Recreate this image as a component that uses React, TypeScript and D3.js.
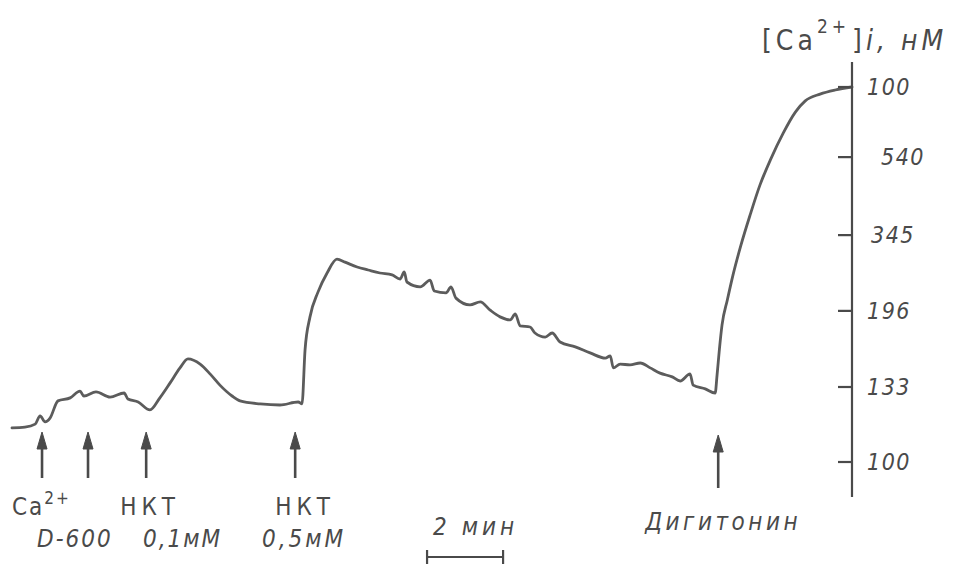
import React from 'react';
import * as d3 from 'd3';

// время, мин
const traceTime = [
  0, 0.34, 0.61, 0.74, 0.87, 1.0, 1.21, 1.53, 1.79, 1.89, 2.21, 2.58, 2.95, 3.05, 3.32, 3.63,
  3.89, 4.16, 4.42, 4.63, 4.95, 5.21, 5.47, 5.79, 6.0, 6.53, 7.05, 7.53, 7.63, 7.71, 7.84, 8.05,
  8.29, 8.55, 8.76, 9.08, 9.37, 9.68, 10.0, 10.21, 10.32, 10.39, 10.74, 11.0, 11.11, 11.42, 11.55,
  11.68, 12.05, 12.32, 12.58, 12.84, 13.11, 13.24, 13.37, 13.63, 13.76, 14.03, 14.21, 14.42, 14.82,
  15.21, 15.61, 15.74, 15.82, 16.0, 16.26, 16.53, 16.79, 17.05, 17.37, 17.58, 17.84, 17.92, 18.24,
  18.5, 18.55, 18.61, 18.68, 18.82, 18.97, 19.18, 19.42, 19.68, 19.95, 20.29, 20.61, 20.87, 21.26,
  21.66, 22.1
];
// сигнал флуоресценции, отн. ед.
const traceSignal = [
  9.1, 9.3, 10.1, 12.3, 10.7, 11.7, 16.3, 17.1, 18.9, 17.6, 18.7, 17.3, 18.4, 16.8, 16.0, 13.9,
  17.1, 21.1, 25.1, 27.5, 26.1, 23.5, 20.5, 17.6, 16.3, 15.5, 15.2, 16.0, 15.5, 29.9, 38.7, 45.3,
  50.4, 54.1, 53.3, 52.0, 51.2, 50.4, 49.9, 48.8, 50.7, 48.0, 46.7, 48.5, 45.6, 45.1, 46.7,
  43.7, 41.9, 42.7, 40.5, 38.7, 37.9, 39.5, 36.3, 36.0, 34.4, 33.3, 34.4, 32.0, 30.7,
  29.1, 27.7, 28.3, 25.1, 26.1, 25.9, 26.4, 25.1, 23.7, 22.7, 21.6, 23.5, 20.5, 19.5,
  18.4, 23.2, 29.9, 36.5, 43.2, 49.9, 57.9, 65.9, 73.9, 80.5, 87.7, 93.3, 96.3, 98.1,
  99.2, 100
];

// калибровка [Ca2+]i
const tickSignal = [0, 20, 40.3, 60.5, 81.3, 100];
const tickLabels = ['100', '133', '196', '345', '540', '100'];

// добавки
const arrowTime = [0.79, 2.0, 3.53, 7.45, 18.58];

const INK = '#4a4a4a';
const TRACE = '#5c5c5c';
const FONT = '"DejaVu Sans Condensed", "DejaVu Sans", sans-serif';

export default function App() {
  const W = 970, H = 564;
  const margin = { left: 12, right: 118, top: 87, bottom: 102 };
  const x = d3.scaleLinear().domain([0, 22.1]).range([margin.left, W - margin.right]);
  const y = d3.scaleLinear().domain([0, 100]).range([H - margin.bottom, margin.top]);

  const line = d3.line<number>()
    .x((_, i) => x(traceTime[i]))
    .y(d => y(d))
    .curve(d3.curveMonotoneX);

  const axisX = x(22.1);
  const arrowTop = y(0) - 30;
  const arrowBottom = y(0) + 16;

  const barT0 = 10.92, barT1 = 12.92;

  return (
    <svg width={W} height={H} style={{ position: 'absolute', left: 0, top: 0, background: '#fff' }}>
      {/* кривая */}
      <path d={line(traceSignal) || ''} fill="none" stroke={TRACE} strokeWidth={2.8}
        strokeLinejoin="round" strokeLinecap="round" />

      {/* ось [Ca2+]i */}
      <line x1={axisX} x2={axisX} y1={y(100) - 25} y2={y(0) + 35} stroke={INK} strokeWidth={2.2} />
      {tickSignal.map((s, i) => (
        <g key={i}>
          <line x1={axisX - 14} x2={axisX} y1={y(s)} y2={y(s)} stroke={INK} strokeWidth={2.2} />
          <text x={axisX + (i === 4 ? 29 : i === 3 ? 19 : 15)} y={y(s) + 8} fontFamily={FONT}
            fontStyle="italic" fontSize={23} fill={INK} letterSpacing={1.5}>{tickLabels[i]}</text>
        </g>
      ))}
      <text x={762} y={50} fontFamily={FONT} fontSize={28} fill={INK} letterSpacing={4}>
        [Ca
        <tspan dy={-17} fontSize={19}>2+</tspan>
        <tspan dy={17} dx={2}>]</tspan>
        <tspan fontStyle="italic">i, нМ</tspan>
      </text>

      {/* стрелки */}
      {arrowTime.map((t, i) => {
        const ax = x(t);
        const bottom = i === 4 ? arrowBottom + 10 : arrowBottom;
        const top = i === 4 ? arrowTop + 3 : arrowTop;
        return (
          <g key={i} fill={INK} stroke={INK}>
            <line x1={ax} x2={ax} y1={top + 10} y2={bottom} strokeWidth={2.6} />
            <path d={`M${ax},${top} L${ax - 5},${top + 17} L${ax + 5},${top + 17} Z`} strokeWidth={1} />
          </g>
        );
      })}

      {/* подписи */}
      <g fontFamily={FONT} fontSize={24} fill={INK}>
        <text x={12} y={515} letterSpacing={2}>Ca<tspan dy={-11} fontSize={17}>2+</tspan></text>
        <text x={x(arrowTime[2]) - 26} y={515} letterSpacing={5}>НКТ</text>
        <text x={x(arrowTime[3]) - 20} y={515} letterSpacing={5}>НКТ</text>
        <text x={37} y={547} fontStyle="italic" letterSpacing={2}>D-600</text>
        <text x={143} y={547} fontStyle="italic" letterSpacing={2}>0,1мМ</text>
        <text x={262} y={547} fontStyle="italic" letterSpacing={3}>0,5мМ</text>
        <text x={x(arrowTime[4]) - 73} y={530} fontStyle="italic" letterSpacing={3.5}>Дигитонин</text>
        <text x={x(barT0) + 6} y={535} fontStyle="italic" letterSpacing={4}>2 мин</text>
      </g>

      {/* масштаб 2 мин */}
      <g stroke={INK} strokeWidth={2.2}>
        <line x1={x(barT0)} x2={x(barT1)} y1={557} y2={557} />
        <line x1={x(barT0)} x2={x(barT0)} y1={550} y2={564} />
        <line x1={x(barT1)} x2={x(barT1)} y1={550} y2={564} />
      </g>
    </svg>
  );
}
